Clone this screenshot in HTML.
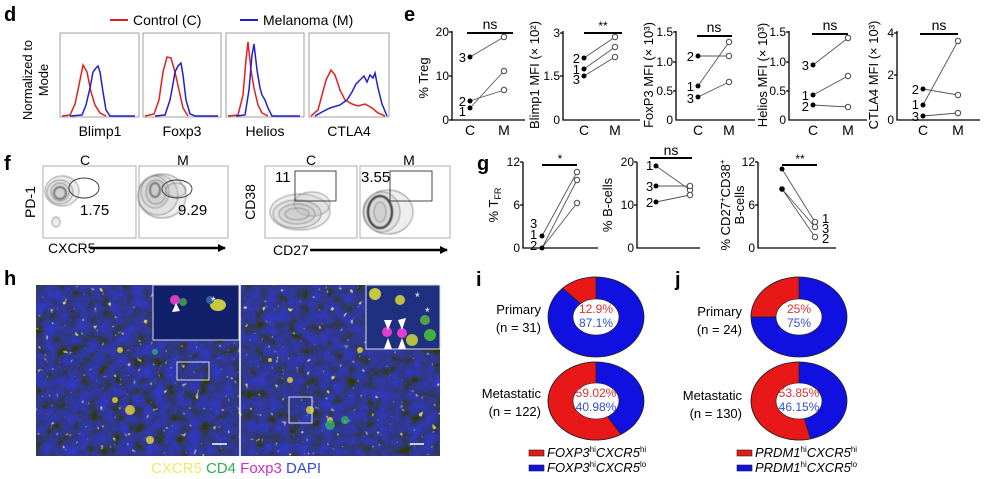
<!DOCTYPE html>
<html><head><meta charset="utf-8"><style>
html,body{margin:0;padding:0;background:#fff}
svg{display:block;font-family:"Liberation Sans",Arial,sans-serif}
</style></head><body>
<svg width="992" height="479" viewBox="0 0 992 479" xmlns="http://www.w3.org/2000/svg">
<defs>
<filter id="tex" x="0" y="0" width="100%" height="100%">
<feTurbulence type="fractalNoise" baseFrequency="0.09" numOctaves="3" seed="3" result="n"/>
<feColorMatrix in="n" type="matrix" values="0 0 0 0 0.03  0 0 0 0 0.04  0 0 0.95 0 -0.2  0 0 0 0 1"/>
</filter>
<filter id="spk" x="0" y="0" width="100%" height="100%">
<feTurbulence type="fractalNoise" baseFrequency="0.16" numOctaves="2" seed="9" result="n"/>
<feColorMatrix in="n" type="matrix" values="0 0 0 0 0.95  0 0 0 0 0.88  0 0 0 0 0.2  9 0 0 0 -6.4"/>
</filter>
<filter id="blur"><feGaussianBlur stdDeviation="0.6"/></filter>
<marker id="ar" markerWidth="8" markerHeight="8" refX="7" refY="4" orient="auto" markerUnits="userSpaceOnUse"><path d="M0,0 L8,4 L0,8z" fill="#000"/></marker>
</defs>
<g font-weight="bold" font-size="20">
<text x="4" y="21">d</text><text x="404" y="21">e</text><text x="4" y="170">f</text>
<text x="477" y="170">g</text><text x="4" y="285">h</text><text x="476" y="286">i</text><text x="675" y="286">j</text>
</g>
<line x1="110" y1="20" x2="128" y2="20" stroke="#e02020" stroke-width="2"/>
<text x="133" y="25" font-size="14">Control (C)</text>
<line x1="240" y1="20" x2="258" y2="20" stroke="#2020d0" stroke-width="2"/>
<text x="263" y="25" font-size="14">Melanoma (M)</text>
<text transform="translate(32,80) rotate(-90)" font-size="13" text-anchor="middle">Normalized to</text>
<text transform="translate(48,80) rotate(-90)" font-size="13" text-anchor="middle">Mode</text>
<g fill="none" stroke="#888" stroke-width="0.8">
<rect x="60" y="33" width="79" height="84"/><rect x="143" y="33" width="78" height="84"/>
<rect x="226" y="33" width="78" height="84"/><rect x="309" y="33" width="80" height="84"/>
</g>
<g fill="none" stroke-width="1.5">
<path d="M62,116 L70,115 L75,104 L79,85 L83,65 L87,72 L91,92 L95,105 L100,113 L106,116" stroke="#e02020"/>
<path d="M70,116 L82,115 L86,105 L90,88 L93,72 L96,68 L98,66 L100,72 L103,92 L106,110 L110,116 L135,116" stroke="#2020d0"/>
<path d="M145,116 L154,114 L159,100 L163,72 L167,57 L171,58 L175,72 L179,90 L183,108 L188,116" stroke="#e02020"/>
<path d="M155,116 L165,115 L170,100 L173,84 L175,72 L178,66 L181,63 L183,75 L186,100 L190,114 L195,116 L218,116" stroke="#2020d0"/>
<path d="M228,116 L238,115 L243,95 L246,60 L248,42 L251,70 L254,88 L258,105 L262,113 L268,116" stroke="#e02020"/>
<path d="M236,116 L245,115 L249,90 L252,55 L254,44 L257,70 L260,88 L262,95 L265,100 L268,108 L272,116 L300,116" stroke="#2020d0"/>
<path d="M311,116 L318,110 L322,95 L326,80 L331,70 L335,75 L340,90 L345,100 L352,104 L358,106 L365,104 L372,108 L378,113 L385,116" stroke="#e02020"/>
<path d="M315,116 L322,112 L330,108 L340,105 L347,100 L352,92 L356,84 L360,80 L364,76 L367,82 L370,75 L373,78 L375,73 L378,88 L382,104 L387,116" stroke="#2020d0"/>
</g>
<g font-size="14" text-anchor="middle"><text x="100" y="136">Blimp1</text><text x="182" y="136">Foxp3</text><text x="265" y="136">Helios</text><text x="349" y="136">CTLA4</text></g>

<g stroke="#000" stroke-width="1.3" fill="none">
<path d="M452,31 V120 H525"/><path d="M563,31 V120 H640"/><path d="M676,31 V120 H755"/><path d="M789,31 V120 H867"/><path d="M897,31 V120 H980"/>
<path d="M449,32 H452 M449,76 H452 M449,120 H452 M560,33 H563 M560,76 H563 M673,32 H676 M673,62 H676 M673,91 H676 M786,32 H789 M786,62 H789 M786,91 H789 M894,33 H897 M894,75 H897"/>
<path d="M467,33 H513 M584,33 H622 M697,36 H732 M812,34 H848 M920,34 H958" stroke-width="2"/>
</g>
<g font-size="12" text-anchor="end">
<text x="449" y="36">20</text><text x="449" y="80">10</text><text x="449" y="124">0</text>
<text x="560" y="37">3</text><text x="560" y="80">1.5</text><text x="560" y="124">0</text>
<text x="673" y="36">1.5</text><text x="673" y="66">1.0</text><text x="673" y="95">0.5</text><text x="673" y="124">0</text>
<text x="786" y="36">1.5</text><text x="786" y="66">1.0</text><text x="786" y="95">0.5</text><text x="786" y="124">0</text>
<text x="894" y="37">4</text><text x="894" y="79">2</text><text x="894" y="124">0</text>
</g>
<g font-size="14" text-anchor="middle">
<text x="490" y="29">ns</text><text x="603" y="30" font-size="12">**</text><text x="714" y="32">ns</text><text x="830" y="30">ns</text><text x="939" y="30">ns</text>
<text x="470" y="135">C</text><text x="504" y="135">M</text><text x="584" y="135">C</text><text x="615" y="135">M</text>
<text x="698" y="135">C</text><text x="729" y="135">M</text><text x="813" y="135">C</text><text x="848" y="135">M</text>
<text x="923" y="135">C</text><text x="958" y="135">M</text>
</g>
<g font-size="13" text-anchor="middle">
<text transform="translate(428,78) rotate(-90)">% Treg</text>
<text transform="translate(539,75) rotate(-90)">Blimp1 MFI (× 10²)</text>
<text transform="translate(653,75) rotate(-90)">FoxP3 MFI (× 10³)</text>
<text transform="translate(767,75) rotate(-90)">Helios MFI (× 10³)</text>
<text transform="translate(878,75) rotate(-90)">CTLA4 MFI (× 10³)</text>
</g>
<g stroke="#555" stroke-width="0.9" fill="none">
<path d="M470,57 L504,37 M470,101 L504,90 M470,108 L504,71"/>
<path d="M584,58 L615,37 M584,69 L615,47 M584,76 L615,57"/>
<path d="M698,56 L729,56 M698,86 L729,42 M698,97 L729,82"/>
<path d="M813,65 L848,38 M813,95 L848,76 M813,105 L848,107"/>
<path d="M923,89 L958,95 M923,105 L958,41 M923,116 L958,113"/>
</g>
<g fill="#000">
<circle cx="470" cy="57" r="2.5"/><circle cx="470" cy="101" r="2.5"/><circle cx="470" cy="108" r="2.5"/>
<circle cx="584" cy="58" r="2.5"/><circle cx="584" cy="69" r="2.5"/><circle cx="584" cy="76" r="2.5"/>
<circle cx="698" cy="56" r="2.5"/><circle cx="698" cy="86" r="2.5"/><circle cx="698" cy="97" r="2.5"/>
<circle cx="813" cy="65" r="2.5"/><circle cx="813" cy="95" r="2.5"/><circle cx="813" cy="105" r="2.5"/>
<circle cx="923" cy="89" r="2.5"/><circle cx="923" cy="105" r="2.5"/><circle cx="923" cy="116" r="2.5"/>
</g>
<g fill="#fff" stroke="#444" stroke-width="1">
<circle cx="504" cy="37" r="2.7"/><circle cx="504" cy="90" r="2.7"/><circle cx="504" cy="71" r="2.7"/>
<circle cx="615" cy="37" r="2.7"/><circle cx="615" cy="47" r="2.7"/><circle cx="615" cy="57" r="2.7"/>
<circle cx="729" cy="56" r="2.7"/><circle cx="729" cy="42" r="2.7"/><circle cx="729" cy="82" r="2.7"/>
<circle cx="848" cy="38" r="2.7"/><circle cx="848" cy="76" r="2.7"/><circle cx="848" cy="107" r="2.7"/>
<circle cx="958" cy="95" r="2.7"/><circle cx="958" cy="41" r="2.7"/><circle cx="958" cy="113" r="2.7"/>
</g>
<g font-size="13" text-anchor="end">
<text x="466" y="62">3</text><text x="466" y="106">2</text><text x="466" y="116">1</text>
<text x="580" y="63">2</text><text x="580" y="74">1</text><text x="580" y="84">3</text>
<text x="694" y="61">2</text><text x="694" y="91">1</text><text x="694" y="103">3</text>
<text x="809" y="70">3</text><text x="809" y="100">1</text><text x="809" y="111">2</text>
<text x="919" y="94">2</text><text x="919" y="109">1</text><text x="919" y="121">3</text>
</g>

<g font-size="14" text-anchor="middle"><text x="85" y="165">C</text><text x="183" y="165">M</text><text x="311" y="165">C</text><text x="409" y="165">M</text></g>
<g fill="none" stroke="#999" stroke-width="0.8">
<rect x="43" y="166" width="93" height="72"/><rect x="139" y="166" width="89" height="72"/>
<rect x="265" y="166" width="92" height="72"/><rect x="360" y="166" width="90" height="72"/>
</g>
<g fill="#bbb" fill-opacity="0.25" stroke="#777" stroke-width="0.7" filter="url(#blur)">
<ellipse cx="62" cy="191" rx="17" ry="15"/><ellipse cx="60" cy="192" rx="13" ry="12"/><ellipse cx="60" cy="192" rx="9" ry="9"/><ellipse cx="60" cy="193" rx="6" ry="6" stroke-width="2"/>
<ellipse cx="56" cy="222" rx="4" ry="5"/>
<ellipse cx="162" cy="196" rx="24" ry="22"/><ellipse cx="158" cy="195" rx="20" ry="20"/><ellipse cx="155" cy="192" rx="14" ry="16"/><ellipse cx="156" cy="192" rx="10" ry="12"/><ellipse cx="155" cy="190" rx="5" ry="7" stroke-width="2"/>
<ellipse cx="176" cy="190" rx="10" ry="7"/>
<ellipse cx="300" cy="212" rx="30" ry="18"/><ellipse cx="312" cy="204" rx="18" ry="12"/><ellipse cx="297" cy="214" rx="24" ry="14"/><ellipse cx="297" cy="214" rx="18" ry="10"/><ellipse cx="297" cy="214" rx="12" ry="6"/>
<ellipse cx="388" cy="212" rx="25" ry="22"/><ellipse cx="382" cy="212" rx="18" ry="20"/><ellipse cx="380" cy="212" rx="12" ry="16" stroke-width="2.5" stroke="#444"/><ellipse cx="380" cy="212" rx="6" ry="10"/>
</g>
<g fill="none" stroke="#333" stroke-width="0.9">
<ellipse cx="84" cy="188" rx="15" ry="10"/><ellipse cx="177" cy="189" rx="15" ry="9"/>
<rect x="295" y="171" width="41" height="30"/><rect x="390" y="171" width="42" height="30"/>
</g>
<g font-size="15"><text x="80" y="215">1.75</text><text x="178" y="215">9.29</text><text x="275" y="182">11</text><text x="361" y="182">3.55</text></g>
<line x1="90" y1="248" x2="225" y2="248" stroke="#000" stroke-width="2.5" marker-end="url(#ar)"/>
<line x1="310" y1="250" x2="447" y2="250" stroke="#000" stroke-width="2.5" marker-end="url(#ar)"/>
<g font-size="14"><text x="48" y="253">CXCR5</text><text x="273" y="255">CD27</text></g>
<g font-size="14" text-anchor="middle"><text transform="translate(35,202) rotate(-90)">PD-1</text><text transform="translate(255,202) rotate(-90)">CD38</text></g>

<g stroke="#000" stroke-width="1.3" fill="none">
<path d="M523,162 V248 H598"/><path d="M637,162 V248 H700"/><path d="M758,162 V248 H836"/>
<path d="M520,162 H523 M520,205 H523 M634,162 H637 M634,205 H637 M755,162 H758 M755,205 H758"/>
<path d="M542,165 H577 M650,158 H692 M782,165 H817" stroke-width="2"/>
</g>
<g font-size="12" text-anchor="end">
<text x="520" y="166">12</text><text x="520" y="209">6</text><text x="520" y="252">0</text>
<text x="634" y="166">20</text><text x="634" y="209">10</text><text x="634" y="252">0</text>
<text x="755" y="166">12</text><text x="755" y="209">6</text><text x="755" y="252">0</text>
</g>
<g font-size="14" text-anchor="middle">
<text x="560" y="163" font-size="12">*</text><text x="671" y="155">ns</text><text x="800" y="163" font-size="12">**</text>
</g>
<g font-size="13" text-anchor="middle">
<text transform="translate(498,205) rotate(-90)">% T<tspan font-size="9" dy="3">FR</tspan></text>
<text transform="translate(612,205) rotate(-90)">% B-cells</text>
<text transform="translate(730,205) rotate(-90)">% CD27<tspan font-size="8" dy="-5">+</tspan><tspan dy="5">CD38</tspan><tspan font-size="8" dy="-5">+</tspan></text>
<text transform="translate(744,205) rotate(-90)">B-cells</text>
</g>
<g stroke="#555" stroke-width="0.9" fill="none">
<path d="M542,236 L577,172 M542,248 L577,180 M542,248 L577,203"/>
<path d="M656,166 L690,190 M656,186 L690,186 M656,202 L690,195"/>
<path d="M782,169 L815,222 M782,189 L815,227 M782,189 L815,237"/>
</g>
<g fill="#000">
<circle cx="542" cy="236" r="2.5"/><circle cx="542" cy="248" r="2.5"/>
<circle cx="656" cy="166" r="2.5"/><circle cx="656" cy="186" r="2.5"/><circle cx="656" cy="202" r="2.5"/>
<circle cx="782" cy="169" r="2.5"/><circle cx="782" cy="189" r="2.8"/>
</g>
<g fill="#fff" stroke="#444">
<circle cx="577" cy="172" r="2.7"/><circle cx="577" cy="180" r="2.7"/><circle cx="577" cy="203" r="2.7"/>
<circle cx="690" cy="190" r="2.7"/><circle cx="690" cy="186" r="2.7"/><circle cx="690" cy="195" r="2.7"/>
<circle cx="815" cy="222" r="2.7"/><circle cx="815" cy="227" r="2.7"/><circle cx="815" cy="237" r="2.7"/>
</g>
<g font-size="13">
<text x="530" y="228">3</text><text x="530" y="239">1</text><text x="530" y="250">2</text>
<text x="646" y="170">1</text><text x="646" y="191">3</text><text x="646" y="207">2</text>
<text x="822" y="223">1</text><text x="822" y="233">3</text><text x="822" y="243">2</text>
</g>

<rect x="36" y="285" width="404" height="171" fill="#0a0c50"/>
<rect x="36" y="285" width="404" height="171" filter="url(#tex)"/>
<rect x="36" y="285" width="404" height="171" filter="url(#spk)" opacity="0.8"/>
<line x1="240" y1="285" x2="240" y2="456" stroke="#fff" stroke-width="1.5"/>
<g fill="#e8d830" opacity="0.8">
<circle cx="120" cy="350" r="3"/><circle cx="130" cy="410" r="5"/><circle cx="150" cy="440" r="4"/><circle cx="115" cy="400" r="3"/>
<circle cx="310" cy="410" r="4"/><circle cx="330" cy="420" r="3"/><circle cx="290" cy="380" r="3"/><circle cx="360" cy="350" r="3"/><circle cx="270" cy="360" r="2"/>
</g>
<g fill="#30b060" opacity="0.8"><circle cx="155" cy="352" r="3"/><circle cx="330" cy="425" r="5"/><circle cx="345" cy="420" r="4"/></g>
<rect x="153" y="285" width="86" height="55" fill="#10206a" stroke="#ddd" stroke-width="1"/>
<circle cx="175" cy="300" r="5" fill="#d040c0"/><circle cx="183" cy="302" r="4" fill="#3a9050"/><ellipse cx="218" cy="305" rx="8" ry="6" fill="#c8c840"/><circle cx="210" cy="300" r="4" fill="#3060a0"/>
<path d="M176,303 L172,312 L180,311z" fill="#fff"/><text x="211" y="305" fill="#fff" font-size="12">*</text>
<rect x="366" y="285" width="74" height="64" fill="#203080" stroke="#ddd" stroke-width="1"/>
<circle cx="375" cy="294" r="6" fill="#c8c840"/><circle cx="400" cy="300" r="5" fill="#c0c040"/><circle cx="425" cy="320" r="5" fill="#50a050"/><circle cx="430" cy="335" r="6" fill="#40b040"/>
<circle cx="387" cy="332" r="5" fill="#e040d0"/><circle cx="402" cy="333" r="5" fill="#e040d0"/><circle cx="412" cy="340" r="6" fill="#b0c040"/>
<path d="M384,320 L392,320 L388,330z M398,320 L406,318 L402,330z M384,349 L388,338 L392,349z M398,349 L402,338 L406,349z" fill="#fff"/>
<text x="415" y="301" fill="#fff" font-size="12">*</text><text x="425" y="316" fill="#fff" font-size="12">*</text>
<g fill="none" stroke="#ddd" stroke-width="1"><rect x="177" y="362" width="32" height="18"/><rect x="289" y="397" width="23" height="26"/></g>
<g stroke="#fff" stroke-width="1.5"><line x1="212" y1="444" x2="227" y2="444"/><line x1="410" y1="444" x2="424" y2="444"/></g>
<g font-size="15" text-anchor="middle"><text x="236" y="473"><tspan fill="#f2ea60">CXCR5</tspan> <tspan fill="#2fae55">CD4</tspan> <tspan fill="#d030c8">Foxp3</tspan> <tspan fill="#3050d0">DAPI</tspan></text></g>

<g stroke="#222" stroke-width="0.8">
<ellipse cx="596" cy="317" rx="48" ry="40" fill="#1010e0"/>
<path d="M596,317 L596,277 A48,40 0 0,0 562.7,288.2 Z" fill="#e81818"/>
<ellipse cx="596" cy="401" rx="48" ry="39" fill="#1010e0"/>
<path d="M596,401 L596,362 A48,39 0 1,0 620.9,434.4 Z" fill="#e81818"/>
<ellipse cx="799" cy="317" rx="48" ry="40" fill="#1010e0"/>
<path d="M799,317 L799,277 A48,40 0 0,0 751,317 Z" fill="#e81818"/>
<ellipse cx="799" cy="401" rx="48" ry="39" fill="#1010e0"/>
<path d="M799,401 L799,362 A48,39 0 1,0 810.5,438.9 Z" fill="#e81818"/>
</g>
<g fill="#fff" stroke="#222" stroke-width="0.6">
<ellipse cx="596" cy="317" rx="23" ry="18"/><ellipse cx="596" cy="401" rx="23" ry="18"/>
<ellipse cx="799" cy="317" rx="23" ry="18"/><ellipse cx="799" cy="401" rx="23" ry="18"/>
</g>
<g font-size="12" text-anchor="middle">
<text x="596" y="313" fill="#e03030">12.9%</text><text x="596" y="327" fill="#3050d0">87.1%</text>
<text x="596" y="397" fill="#e03030">59.02%</text><text x="596" y="411" fill="#3050d0">40.98%</text>
<text x="799" y="313" fill="#e03030">25%</text><text x="799" y="327" fill="#3050d0">75%</text>
<text x="799" y="397" fill="#e03030">53.85%</text><text x="799" y="411" fill="#3050d0">46.15%</text>
</g>
<g font-size="13" text-anchor="end">
<text x="541" y="314">Primary</text><text x="541" y="332">(n = 31)</text>
<text x="541" y="398">Metastatic</text><text x="541" y="416">(n = 122)</text>
<text x="742" y="316">Primary</text><text x="742" y="334">(n = 24)</text>
<text x="742" y="400">Metastatic</text><text x="742" y="418">(n = 130)</text>
</g>
<g stroke="#222" stroke-width="0.6">
<rect x="529" y="450" width="15" height="6" fill="#e81818"/><rect x="529" y="465" width="15" height="6" fill="#1010e0"/>
<rect x="737" y="450" width="15" height="6" fill="#e81818"/><rect x="737" y="465" width="15" height="6" fill="#1010e0"/>
</g>
<g font-size="13" font-style="italic">
<text x="547" y="457">FOXP3<tspan font-size="8" dy="-5" font-style="normal">hi</tspan><tspan dy="5">CXCR5</tspan><tspan font-size="8" dy="-5" font-style="normal">hi</tspan></text>
<text x="547" y="472">FOXP3<tspan font-size="8" dy="-5" font-style="normal">hi</tspan><tspan dy="5">CXCR5</tspan><tspan font-size="8" dy="-5" font-style="normal">lo</tspan></text>
<text x="755" y="457">PRDM1<tspan font-size="8" dy="-5" font-style="normal">hi</tspan><tspan dy="5">CXCR5</tspan><tspan font-size="8" dy="-5" font-style="normal">hi</tspan></text>
<text x="755" y="472">PRDM1<tspan font-size="8" dy="-5" font-style="normal">hi</tspan><tspan dy="5">CXCR5</tspan><tspan font-size="8" dy="-5" font-style="normal">lo</tspan></text>
</g>
</svg>
</body></html>
